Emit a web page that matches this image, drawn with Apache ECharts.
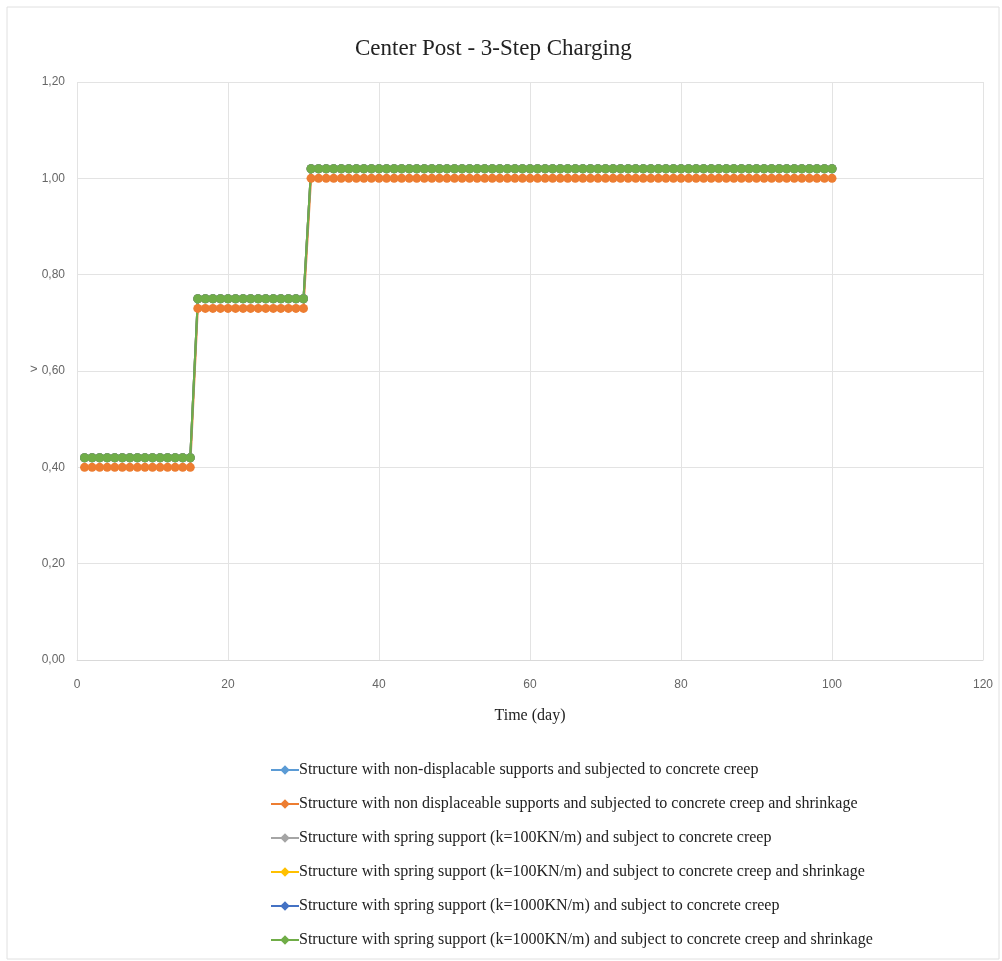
<!DOCTYPE html>
<html><head><meta charset="utf-8">
<script src="https://cdn.jsdelivr.net/npm/echarts@6/dist/echarts.min.js"></script>
<style>html,body{margin:0;padding:0;background:#fff}#c{width:1002px;height:961px}</style>
</head><body><div id="c"></div>
<script>
const days = [1,2,3,4,5,6,7,8,9,10,11,12,13,14,15,16,17,18,19,20,21,22,23,24,25,26,27,28,29,30,
31,32,33,34,35,36,37,38,39,40,41,42,43,44,45,46,47,48,49,50,51,52,53,54,55,56,57,58,59,60,
61,62,63,64,65,66,67,68,69,70,71,72,73,74,75,76,77,78,79,80,81,82,83,84,85,86,87,88,89,90,
91,92,93,94,95,96,97,98,99,100];
const upperValues = [
0.42,0.42,0.42,0.42,0.42,0.42,0.42,0.42,0.42,0.42,0.42,0.42,0.42,0.42,0.42,
0.75,0.75,0.75,0.75,0.75,0.75,0.75,0.75,0.75,0.75,0.75,0.75,0.75,0.75,0.75,
1.02,1.02,1.02,1.02,1.02,1.02,1.02,1.02,1.02,1.02,1.02,1.02,1.02,1.02,1.02,1.02,1.02,1.02,1.02,1.02,
1.02,1.02,1.02,1.02,1.02,1.02,1.02,1.02,1.02,1.02,1.02,1.02,1.02,1.02,1.02,1.02,1.02,1.02,1.02,1.02,
1.02,1.02,1.02,1.02,1.02,1.02,1.02,1.02,1.02,1.02,1.02,1.02,1.02,1.02,1.02,1.02,1.02,1.02,1.02,1.02,
1.02,1.02,1.02,1.02,1.02,1.02,1.02,1.02,1.02,1.02];
const shrinkValues = [
0.40,0.40,0.40,0.40,0.40,0.40,0.40,0.40,0.40,0.40,0.40,0.40,0.40,0.40,0.40,
0.73,0.73,0.73,0.73,0.73,0.73,0.73,0.73,0.73,0.73,0.73,0.73,0.73,0.73,0.73,
1.00,1.00,1.00,1.00,1.00,1.00,1.00,1.00,1.00,1.00,1.00,1.00,1.00,1.00,1.00,1.00,1.00,1.00,1.00,1.00,
1.00,1.00,1.00,1.00,1.00,1.00,1.00,1.00,1.00,1.00,1.00,1.00,1.00,1.00,1.00,1.00,1.00,1.00,1.00,1.00,
1.00,1.00,1.00,1.00,1.00,1.00,1.00,1.00,1.00,1.00,1.00,1.00,1.00,1.00,1.00,1.00,1.00,1.00,1.00,1.00,
1.00,1.00,1.00,1.00,1.00,1.00,1.00,1.00,1.00,1.00];
const seriesNames = [
"Structure with non-displacable supports and subjected to concrete creep",
"Structure with non displaceable supports and subjected to concrete creep and shrinkage",
"Structure with spring support (k=100KN/m) and subject to concrete creep",
"Structure with spring support (k=100KN/m) and subject to concrete creep and shrinkage",
"Structure with spring support (k=1000KN/m) and subject to concrete creep",
"Structure with spring support (k=1000KN/m) and subject to concrete creep and shrinkage"
];
const seriesValues = [upperValues, shrinkValues, upperValues, upperValues, upperValues, upperValues];
const seriesColors = ["#5b9bd5","#ed7d31","#a5a5a5","#ffc000","#4472c4","#70ad47"];
const xTicks = [0,20,40,60,80,100,120];

const chart = echarts.init(document.getElementById('c'));
const legendIcon = 'path://M0,5.1 L28,5.1 L28,6.9 L0,6.9 Z M14,1.2 L18.8,6 L14,10.8 L9.2,6 Z';
chart.setOption({
  animation:false,
  backgroundColor:'#fff',
  title:{text:'Center Post - 3-Step Charging',left:350,top:32,
    textStyle:{fontFamily:'Liberation Serif',fontSize:23,fontWeight:'normal',color:'#222'}},
  grid:{left:77,right:19,top:82,bottom:301,containLabel:false},
  xAxis:{type:'value',min:0,max:120,interval:20,
    name:'Time (day)',nameLocation:'middle',nameGap:48,
    nameTextStyle:{fontFamily:'Liberation Serif',fontSize:16,color:'#222'},
    axisLine:{show:true,lineStyle:{color:'#d9d9d9'}},axisTick:{show:false},
    axisLabel:{color:'#666',fontSize:12,margin:19,fontFamily:'Liberation Sans'},
    splitLine:{show:true,lineStyle:{color:'#e3e3e3'}}},
  yAxis:{type:'value',min:0,max:1.2,interval:0.2,
    axisLine:{show:false},axisTick:{show:false},
    axisLabel:{color:'#666',fontSize:12,margin:12,fontFamily:'Liberation Sans',
      formatter:v=>v.toFixed(2).replace('.',',')},
    splitLine:{show:true,lineStyle:{color:'#e3e3e3'}}},
  legend:{orient:'vertical',left:266,top:757,itemGap:18,itemWidth:28,itemHeight:16,
    icon:legendIcon,
    textStyle:{fontFamily:'Liberation Serif',fontSize:16,color:'#222',padding:[0,0,0,-5]},
    data:seriesNames},
  graphic:[
    {type:'rect',shape:{x:7,y:7,width:992,height:952},style:{fill:'none',stroke:'#e0e0e0',lineWidth:1},silent:true},
    {type:'text',left:30,top:363,style:{text:'>',fontSize:13,fill:'#666',fontFamily:'Liberation Sans'}}
  ],
  series: seriesNames.map((n,i)=>({
    name:n,type:'line',
    data: days.map((d,j)=>[d, seriesValues[i][j]]),
    symbol:'circle',symbolSize:9,showSymbol:true,
    lineStyle:{width:2,color:seriesColors[i]},
    itemStyle:{color:seriesColors[i]},
    color:seriesColors[i]
  }))
});
</script></body></html>
